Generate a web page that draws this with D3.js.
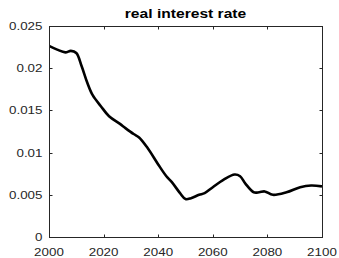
<!DOCTYPE html>
<html>
<head>
<meta charset="utf-8">
<script src="https://cdn.jsdelivr.net/npm/d3@7"></script>
<style>
  body { margin: 0; background: #fff; }
  svg { display: block; }
  text { font-family: "Liberation Sans", Arial, Helvetica, sans-serif; fill: #262626; }
</style>
</head>
<body>
<svg id="chart" width="339" height="258"></svg>
<script>
// data
var title = 'real interest rate'
var years = [2000, 2003, 2006, 2008, 2010, 2012, 2014, 2016, 2019, 2022, 2026, 2028, 2031,
  2033, 2036, 2040, 2043, 2045, 2048, 2050, 2052, 2055, 2057, 2060, 2064, 2068, 2070,
  2072, 2075, 2077, 2079, 2082, 2087, 2092, 2096, 2100]
var rates = [0.02265, 0.0222, 0.02188, 0.02205, 0.0218, 0.0202, 0.0183, 0.0168, 0.0155,
  0.0143, 0.0134, 0.0129, 0.0122, 0.0118, 0.0106, 0.0086, 0.0072, 0.0065, 0.0052, 0.0045,
  0.0046, 0.0050, 0.0052, 0.0059, 0.0068, 0.0074, 0.0072, 0.0063, 0.0053, 0.0053, 0.0054,
  0.0050, 0.0053, 0.0059, 0.0061, 0.0060]
var xTicks = [2000, 2020, 2040, 2060, 2080, 2100]
var yTicks = [0, 0.005, 0.01, 0.015, 0.02, 0.025]
var yTickLabels = ['0', '0.005', '0.01', '0.015', '0.02', '0.025']

// plot box (window.top is taken, so prefix these)
var boxLeft = 49, boxRight = 322, boxTop = 26, boxBottom = 237
var stretch = 1.3   // the picture's text is wider than it is tall
var axisColor = '#262626'

var svg = d3.select('#chart')

var x = d3.scaleLinear().domain([2000, 2100]).range([boxLeft, boxRight])
var y = d3.scaleLinear().domain([0, 0.025]).range([boxBottom, boxTop])

svg.append('defs').append('clipPath').attr('id', 'plotclip')
  .append('rect')
  .attr('x', boxLeft).attr('y', boxTop - 2)
  .attr('width', boxRight - boxLeft).attr('height', boxBottom - boxTop + 4)

// curve
var line = d3.line()
  .x(function (d, i) { return x(years[i]) })
  .y(function (d) { return y(d) })
  .curve(d3.curveCatmullRom.alpha(0.5))

svg.append('path')
  .datum(rates)
  .attr('clip-path', 'url(#plotclip)')
  .attr('d', line)
  .style('fill', 'none')
  .style('stroke', '#000')
  .style('stroke-width', 2.6)
  .style('stroke-linejoin', 'round')

// box
svg.append('rect')
  .attr('x', boxLeft + 0.5).attr('y', boxTop + 0.5)
  .attr('width', boxRight - boxLeft).attr('height', boxBottom - boxTop)
  .style('fill', 'none')
  .style('stroke', axisColor)
  .style('stroke-width', 1)

var tickLen = 3

// inward ticks, all four sides
xTicks.forEach(function (t) {
  var px = Math.round(x(t)) + 0.5
  svg.append('line').attr('x1', px).attr('x2', px)
    .attr('y1', boxBottom + 0.5).attr('y2', boxBottom + 0.5 - tickLen)
    .style('stroke', axisColor)
  svg.append('line').attr('x1', px).attr('x2', px)
    .attr('y1', boxTop + 0.5).attr('y2', boxTop + 0.5 + tickLen)
    .style('stroke', axisColor)
})

yTicks.forEach(function (t) {
  var py = Math.round(y(t)) + 0.5
  svg.append('line').attr('x1', boxLeft + 0.5).attr('x2', boxLeft + 0.5 + tickLen)
    .attr('y1', py).attr('y2', py)
    .style('stroke', axisColor)
  svg.append('line').attr('x1', boxRight + 0.5).attr('x2', boxRight + 0.5 - tickLen)
    .attr('y1', py).attr('y2', py)
    .style('stroke', axisColor)
})

// tick labels
svg.selectAll('text.xlabel')
  .data(xTicks)
  .enter().append('text')
  .attr('class', 'xlabel')
  .attr('transform', function (d) { return 'translate(' + x(d) + ',' + 255.5 + ') scale(' + stretch + ',1)' })
  .attr('text-anchor', 'middle')
  .style('font-size', '10.3px')
  .text(function (d) { return d })

svg.selectAll('text.ylabel')
  .data(yTicks)
  .enter().append('text')
  .attr('class', 'ylabel')
  .attr('transform', function (d) { return 'translate(' + 42.5 + ',' + (y(d) + 4) + ') scale(' + stretch + ',1)' })
  .attr('text-anchor', 'end')
  .style('font-size', '10.3px')
  .text(function (d, i) { return yTickLabels[i] })

// title
svg.append('text')
  .attr('transform', 'translate(' + ((boxLeft + boxRight) / 2) + ',18) scale(' + 1.27 + ',1)')
  .attr('text-anchor', 'middle')
  .style('font-size', '12.3px')
  .style('font-weight', 'bold')
  .style('fill', '#000')
  .text(title)
</script>
</body>
</html>
